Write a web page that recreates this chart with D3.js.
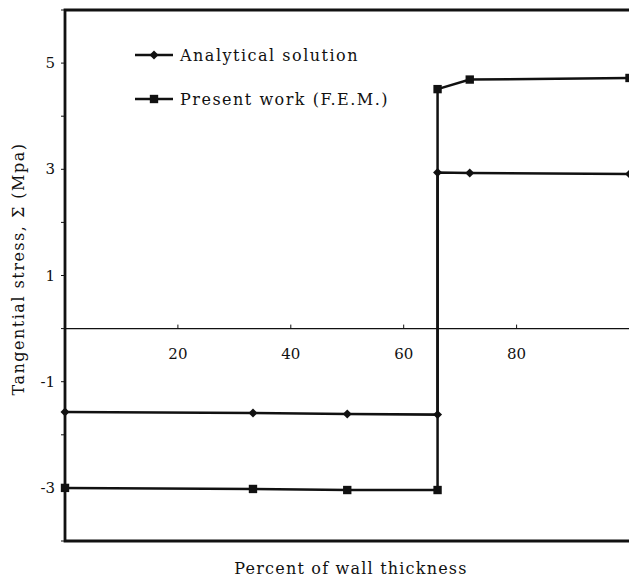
<!DOCTYPE html>
<html>
<head>
<meta charset="utf-8">
<script src="https://cdn.jsdelivr.net/npm/d3@7"></script>
<style>
  body { margin: 0; background: #fff; }
  text { font-family: "DejaVu Serif", serif; fill: #111; }
</style>
</head>
<body>
<div id="chart"></div>
<script>
// percent of wall thickness
var pct = [0, 33.3, 50, 66, 66, 71.7, 100];
var analytical = [-1.57, -1.59, -1.61, -1.62, 2.94, 2.93, 2.91];
var fem = [-3.0, -3.02, -3.04, -3.04, 4.51, 4.69, 4.72];

var xTicks = [20, 40, 60, 80];
var yLabels = [-3, -1, 1, 3, 5];
var yMinor = [-4, -2, 0, 2, 4, 6];

var series = [
  {name: "Analytical solution", values: analytical, shape: "diamond"},
  {name: "Present work (F.E.M.)", values: fem, shape: "square"}
];

var W = 629, H = 579;
var pL = 65, pT = 10, pR = 629.5, pB = 541;

var svg = d3.select("#chart").append("svg")
  .attr("width", W)
  .attr("height", H);

var x = d3.scaleLinear().domain([0, 100]).range([pL, pR]);
var y = d3.scaleLinear().domain([-4, 6]).range([pB, pT]);

// frame (left, top, bottom)
svg.append("path")
  .attr("d", "M" + (pR + 4) + "," + pT + "H" + pL + "V" + pB + "H" + (pR + 4))
  .attr("fill", "none")
  .attr("stroke", "#111")
  .attr("stroke-width", 2.8);

// zero line with x ticks
svg.append("line")
  .attr("x1", pL).attr("x2", pR)
  .attr("y1", y(0)).attr("y2", y(0))
  .attr("stroke", "#111").attr("stroke-width", 1.2);

svg.selectAll(".xtick")
  .data(xTicks)
  .enter()
  .append("line")
  .attr("x1", function(d) { return x(d); })
  .attr("x2", function(d) { return x(d); })
  .attr("y1", y(0))
  .attr("y2", y(0) - 4)
  .attr("stroke", "#111");

svg.selectAll(".xlab")
  .data(xTicks)
  .enter()
  .append("text")
  .text(function(d) { return d; })
  .attr("x", function(d) { return x(d); })
  .attr("y", y(0) + 30)
  .attr("text-anchor", "middle")
  .attr("font-size", "15px");

// y ticks
svg.selectAll(".ytick")
  .data(yMinor.concat(yLabels))
  .enter()
  .append("line")
  .attr("x1", pL - 4)
  .attr("x2", pL)
  .attr("y1", function(d) { return y(d); })
  .attr("y2", function(d) { return y(d); })
  .attr("stroke", "#111");

svg.selectAll(".ylab")
  .data(yLabels)
  .enter()
  .append("text")
  .text(function(d) { return d; })
  .attr("x", 55)
  .attr("y", function(d) { return y(d) + 5; })
  .attr("text-anchor", "end")
  .attr("font-size", "15px");

// series
var line = d3.line()
  .x(function(d) { return x(d[0]); })
  .y(function(d) { return y(d[1]); });

// diamond = square turned 45 degrees
var diamond = d3.symbol().type(d3.symbolSquare).size(40);
var square = d3.symbol().type(d3.symbolSquare).size(70);
var rot = function(shape) { return shape == "diamond" ? " rotate(45)" : ""; };

series.forEach(function(s) {
  var pts = pct.map(function(p, i) { return [p, s.values[i]]; });
  svg.append("path")
    .datum(pts)
    .attr("d", line)
    .attr("fill", "none")
    .attr("stroke", "#111")
    .attr("stroke-width", 2.5);
  svg.selectAll(".m-" + s.shape)
    .data(pts)
    .enter()
    .append("path")
    .attr("d", s.shape == "diamond" ? diamond : square)
    .attr("transform", function(d) { return "translate(" + x(d[0]) + "," + y(d[1]) + ")" + rot(s.shape); })
    .attr("fill", "#111");
});

// legend
var lg = svg.append("g");
series.forEach(function(s, i) {
  var ly = 55 + i * 44;
  lg.append("line")
    .attr("x1", 135).attr("x2", 173)
    .attr("y1", ly).attr("y2", ly)
    .attr("stroke", "#111").attr("stroke-width", 2.5);
  lg.append("path")
    .attr("d", s.shape == "diamond" ? diamond : square)
    .attr("transform", "translate(154," + ly + ")" + rot(s.shape))
    .attr("fill", "#111");
  lg.append("text")
    .text(s.name)
    .attr("x", 180)
    .attr("y", ly + 6)
    .attr("font-size", "16px")
    .attr("letter-spacing", "1.5px");
});

// axis titles
svg.append("text")
  .text("Percent of wall thickness")
  .attr("x", 351)
  .attr("y", 574)
  .attr("text-anchor", "middle")
  .attr("font-size", "16px")
  .attr("letter-spacing", "1.2px");

svg.append("text")
  .text("Tangential stress, \u03A3 (Mpa)")
  .attr("transform", "translate(24,269) rotate(-90)")
  .attr("text-anchor", "middle")
  .attr("font-size", "16px")
  .attr("letter-spacing", "1.5px");
</script>
</body>
</html>
